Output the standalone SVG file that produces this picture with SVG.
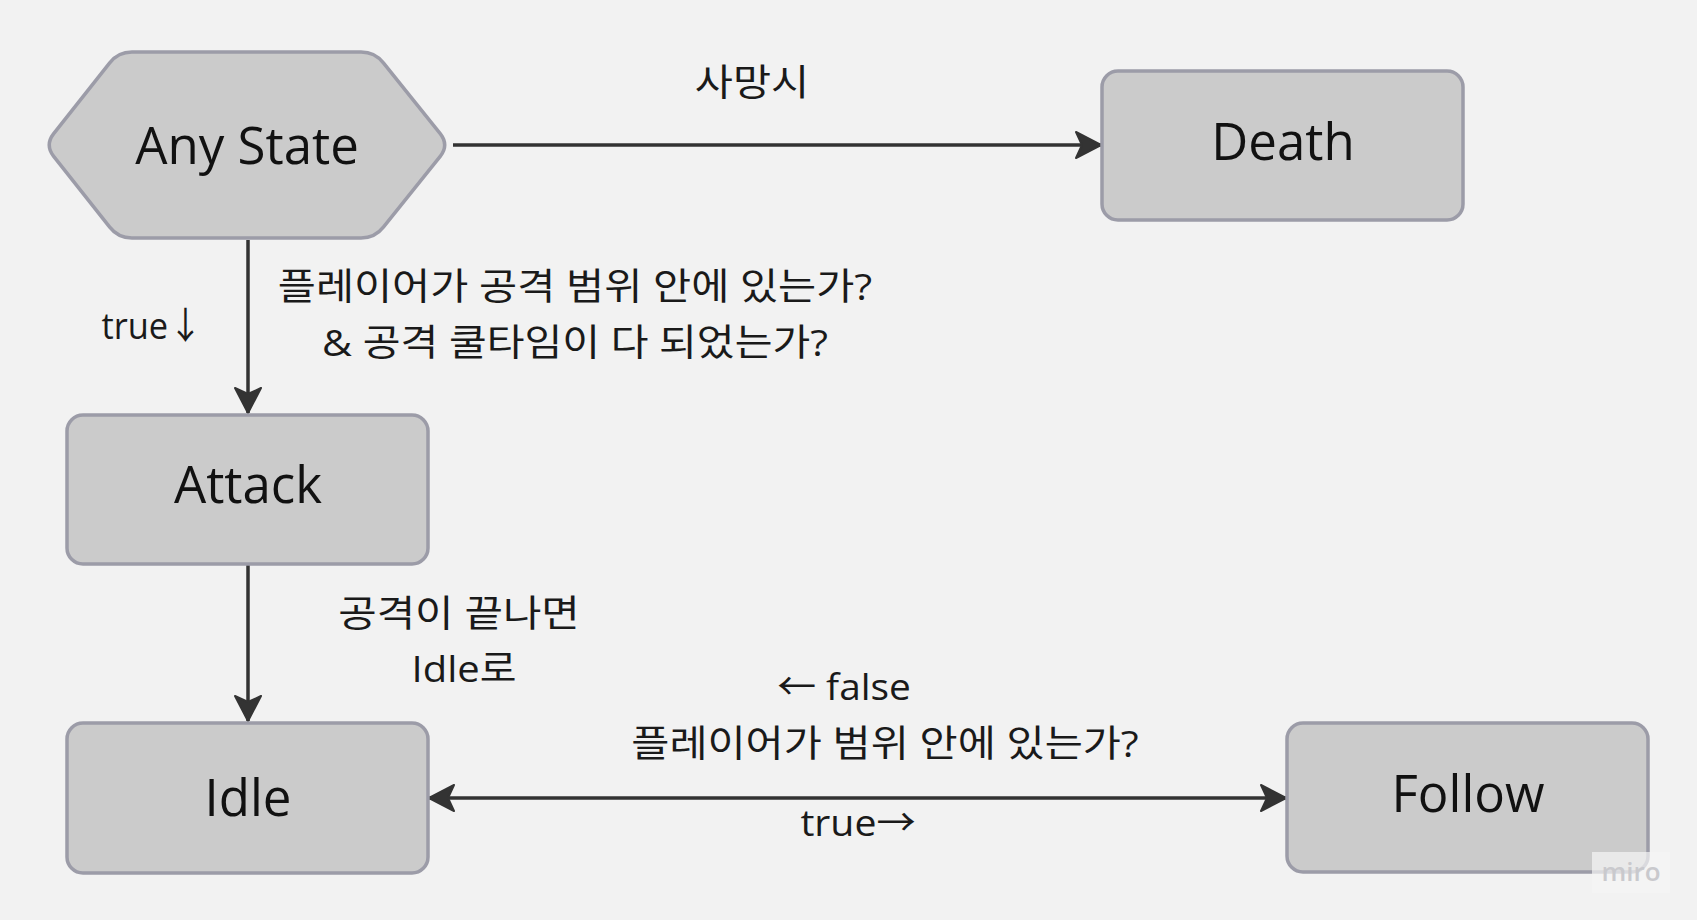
<svg xmlns="http://www.w3.org/2000/svg" width="1697" height="920" viewBox="0 0 1697 920">
<style>
.node{fill:#cbcbcb;stroke:#9c9ca8;stroke-width:3.5}
.nt{font-family:"Open Sans","Noto Sans CJK KR",sans-serif;font-size:51px;fill:#111;text-anchor:middle}
.lbl{font-family:"Open Sans","Noto Sans CJK KR",sans-serif;font-size:37px;fill:#1a1a1a;text-anchor:middle}
.edge{stroke:#333;stroke-width:3.5;fill:none}
</style>
<defs>
<marker id="ah" viewBox="-28 -15 30 30" refX="0" refY="0" markerWidth="30" markerHeight="30" markerUnits="userSpaceOnUse" orient="auto-start-reverse">
<path d="M0,0 L-25,-13 L-19,0 L-25,13 Z" fill="#333" stroke="#333" stroke-width="2" stroke-linejoin="round"/>
</marker>
</defs>
<rect width="1697" height="920" fill="#f2f2f2"/>
<g id="connectors">
<line class="edge" x1="453" y1="145" x2="1101" y2="145" marker-end="url(#ah)"/>
<line class="edge" x1="248" y1="240" x2="248" y2="413" marker-end="url(#ah)"/>
<line class="edge" x1="248" y1="564" x2="248" y2="721" marker-end="url(#ah)"/>
<line class="edge" x1="429" y1="798" x2="1286" y2="798" marker-start="url(#ah)" marker-end="url(#ah)"/>
</g>
<g id="labels">
<text class="lbl" transform="translate(752,96) scale(1.12,1)" x="0" y="0">사망시</text>
<text class="lbl" transform="translate(575,300) scale(1.12,1)" x="0" y="0">플레이어가 공격 범위 안에 있는가?</text>
<text class="lbl" transform="translate(575,356) scale(1.11,1)" x="0" y="0">&amp; 공격 쿨타임이 다 되었는가?</text>
<text class="lbl" transform="translate(152,339) scale(0.93,1)" x="0" y="0">true↓</text>
<text class="lbl" transform="translate(459,627) scale(1.13,1)" x="0" y="0">공격이 끝나면</text>
<text class="lbl" transform="translate(464,682) scale(1.08,1)" x="0" y="0">Idle로</text>
<text class="lbl" transform="translate(844,700) scale(1.05,1)" x="0" y="0">← false</text>
<text class="lbl" transform="translate(885,757) scale(1.12,1)" x="0" y="0">플레이어가 범위 안에 있는가?</text>
<text class="lbl" transform="translate(858,836) scale(1.06,1)" x="0" y="0">true→</text>
</g>
<g id="any-state">
<path class="node" d="M132,52 L361,52 Q375,52 383.6,63.1 L440.4,133.9 Q449,145 440.4,156.1 L383.6,226.9 Q375,238 361,238 L132,238 Q118,238 109.5,226.9 L53.5,156.1 Q45,145 53.5,133.9 L109.5,63.1 Q118,52 132,52 Z"/>
<text class="nt" x="247" y="164">Any State</text>
</g>
<g id="death">
<rect class="node" x="1102" y="71" width="361" height="149" rx="16"/>
<text class="nt" x="1283" y="160">Death</text>
</g>
<g id="attack">
<rect class="node" x="67" y="415" width="361" height="149" rx="16"/>
<text class="nt" x="248" y="503">Attack</text>
</g>
<g id="idle">
<rect class="node" x="67" y="723" width="361" height="150" rx="16"/>
<text class="nt" x="248" y="816">Idle</text>
</g>
<g id="follow">
<rect class="node" x="1287" y="723" width="361" height="149" rx="16"/>
<text class="nt" x="1468" y="812">Follow</text>
</g>
<g id="watermark">
<rect x="1592" y="852" width="78" height="41" fill="#f5f5f5" opacity="0.7"/>
<text x="1631" y="881" font-family="Open Sans,sans-serif" font-size="26" font-weight="600" fill="#c9c9cd" text-anchor="middle">miro</text>
</g>
</svg>
